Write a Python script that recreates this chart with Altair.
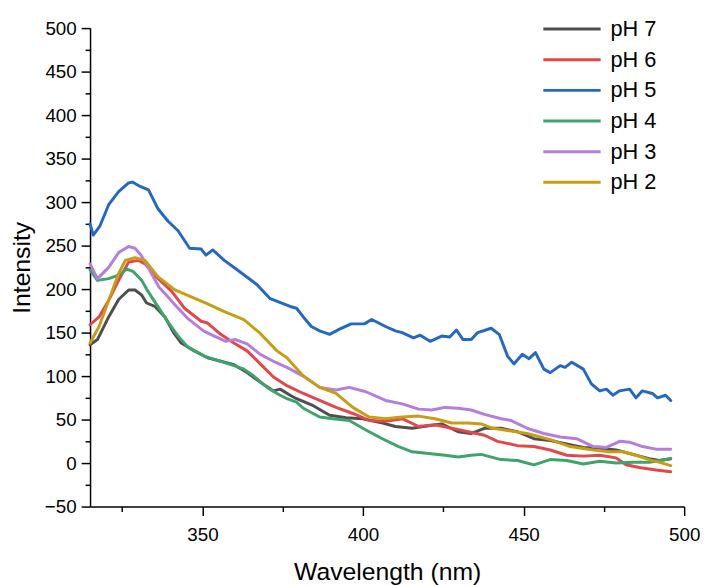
import altair as alt
import pandas as pd

series = ["pH 7", "pH 6", "pH 5", "pH 4", "pH 3", "pH 2"]
colors = ["#4f4f4f", "#e2474a", "#2468c4", "#3ea46c", "#b47fdc", "#c99d12"]

wl_ph7 = [315, 317.3, 320.8, 323.9, 327, 329, 331.1, 332.6, 335.2, 338.3, 341, 343.4, 347.5, 351.6,
          355.7, 359.8, 363.9, 368, 372.1, 374.2, 377.3, 379.3, 384.5, 389.6, 394.7, 399.9, 405,
          410.1, 415.3, 420.4, 424.5, 429.6, 433.7, 437.8, 443, 448.1, 453.2, 458.3, 463.4, 468.6,
          473.7, 478.8, 484, 489.1, 492.2, 495.8]
int_ph7 = [136, 142, 168, 188, 199, 199, 193, 184, 180, 168, 150, 138, 129, 121,
           117, 113, 104, 93, 83, 85, 78, 74, 66, 55, 52, 51, 47,
           42, 40, 43, 45, 36, 34, 40, 40, 36, 28, 26, 22, 18,
           17, 15, 10, 5, 3, 5]

wl_ph6 = [315, 317.8, 320.8, 323.9, 327, 330.1, 332.1, 336.2, 340.3, 344.4, 349.6, 351.6, 355.7,
          359.8, 363.9, 368, 372.1, 376.3, 381.4, 386.5, 391.6, 396.8, 401.9, 407, 412.2, 417.3,
          422.4, 427.6, 432.7, 437.8, 441.9, 448.1, 453.2, 458.3, 463.4, 468.6, 473.7, 478.8,
          481.9, 486, 491.2, 495.8]
int_ph6 = [159, 168, 187, 210, 231, 233, 229, 212, 198, 178, 163, 161, 148,
           138, 129, 114, 99, 89, 80, 72, 64, 57, 49, 48, 51, 42,
           44, 40, 36, 32, 25, 20, 19, 15, 9, 8, 9, 6,
           -2, -5, -8, -10]

wl_ph5 = [315, 316, 318, 320.8, 323.9, 327, 328.2, 330.6, 333.2, 336.2, 339.3, 342.4, 346, 349.6,
          351.1, 353.2, 356.8, 360.9, 367, 371.1, 377.3, 379.3, 381.4, 383.9, 386.5, 389.6, 392.7,
          396.3, 400.4, 402.7, 407, 410.1, 412.2, 415.7, 417.8, 420.9, 424.5, 427, 429.1, 431.1,
          433.7, 435.7, 439.9, 442.4, 445, 447, 449.6, 451.7, 453.7, 456.3, 458.3, 461.4, 462.9,
          465, 468.6, 471.1, 473.7, 475.8, 477.8, 479.9, 483, 485, 487, 490.1, 491.7, 494.2, 495.8]
int_ph5 = [275, 262, 272, 297, 312, 322, 323, 318, 314, 292, 278, 267, 247, 246,
           239, 245, 233, 222, 205, 189, 180, 178, 168, 157, 152, 148, 154,
           160, 160, 165, 157, 152, 150, 144, 147, 140, 146, 145, 153, 142,
           142, 150, 155, 148, 123, 114, 125, 120, 127, 108, 104, 112, 110,
           116, 108, 91, 83, 85, 78, 83, 85, 75, 83, 80, 75, 78, 72]

wl_ph4 = [315, 317.3, 320.8, 323.9, 326.5, 328.5, 331.1, 332.6, 335.2, 339.3, 342.4, 345.5, 350.6,
          355.7, 359.8, 362.9, 366, 370.1, 373.2, 376.3, 379.3, 381.4, 386.5, 390.6, 395.7, 400.9,
          406, 411.1, 415.3, 420.4, 425.5, 429.6, 433.7, 436.8, 440.9, 443, 448.1, 453.2, 458.3,
          463.4, 468.6, 473.7, 478.8, 484, 489.1, 495.8]
int_ph4 = [222, 210, 212, 216, 223, 220, 210, 200, 185, 162, 146, 133, 123,
           117, 112, 108, 100, 87, 80, 74, 70, 63, 53, 51, 49, 38,
           28, 19, 13, 11, 9, 7, 9, 10, 6, 4, 3, -2, 4,
           3, -1, 2, 0, 1, 1, 5]

wl_ph3 = [315, 317.3, 320.8, 323.9, 327, 329, 330.9, 333.2, 336.5, 339.3, 341.9, 345.5, 350.3,
          353.7, 357.3, 360.3, 363.9, 368, 372.1, 376.3, 381.4, 386.5, 391.6, 395.7, 400.9, 407,
          412.2, 417.3, 421.4, 425.5, 429.6, 433.7, 437.8, 443, 446, 451.1, 456.3, 461.4, 466.5,
          471.7, 475.8, 479.9, 483, 487, 491.2, 495.8]
int_ph3 = [229, 212, 225, 242, 249, 247, 239, 224, 202, 191, 180, 166, 152,
           146, 140, 142, 137, 125, 117, 110, 100, 87, 84, 87, 82, 72,
           68, 62, 61, 64, 63, 61, 56, 51, 49, 40, 34, 30, 28,
           19, 18, 25, 24, 19, 16, 16]

wl_ph2 = [315, 317.8, 320.8, 323.9, 326, 329, 332.1, 336.2, 341.4, 346.5, 351.6, 356.8, 362.9,
          368, 373.2, 376.3, 381.4, 386.5, 391.6, 396.8, 401.9, 407, 412.2, 417.3, 422.4, 427.6,
          432.7, 436.8, 440.4, 444, 451.1, 458.3, 464.5, 471.7, 476.8, 480.9, 485, 489.1, 493.2,
          495.8]
int_ph2 = [138, 157, 187, 218, 233, 236, 233, 214, 199, 191, 183, 174, 165,
           149, 129, 121, 100, 87, 80, 64, 53, 51, 53, 54, 51, 46,
           46, 45, 40, 38, 34, 27, 19, 15, 13, 13, 9, 4, 0,
           -3]

x_tick_values = [325, 350, 375, 400, 425, 450, 475, 500]
y_tick_values = [-50, -25, 0, 25, 50, 75, 100, 125, 150, 175, 200, 225, 250, 275, 300,
                 325, 350, 375, 400, 425, 450, 475, 500]

all_series = [
    ("pH 7", wl_ph7, int_ph7),
    ("pH 6", wl_ph6, int_ph6),
    ("pH 5", wl_ph5, int_ph5),
    ("pH 4", wl_ph4, int_ph4),
    ("pH 3", wl_ph3, int_ph3),
    ("pH 2", wl_ph2, int_ph2),
]
rows = []
for name, wl, iv in all_series:
    assert len(wl) == len(iv), name
    for w, v in zip(wl, iv):
        rows.append({"Wavelength": w, "Intensity": v, "Series": name})
df = pd.DataFrame(rows)

FONT = "Liberation Sans"
minor_dash = {"condition": {"test": "datum.value % 50 !== 0", "value": [5, 30]}, "value": [1000, 0]}

x_axis = alt.Axis(
    title="Wavelength (nm)", values=x_tick_values,
    labelExpr="datum.value % 50 === 0 ? datum.label : ''",
    tickSize=9, tickDash=minor_dash,
    labelFlush=False, labelOverlap=False, labelPadding=10, titlePadding=16,
    grid=False,
)
y_axis = alt.Axis(
    title="Intensity", values=y_tick_values,
    labelExpr="datum.value % 50 === 0 ? datum.label : ''",
    tickSize=9, tickDash=minor_dash,
    labelFlush=False, labelOverlap=False, labelPadding=5, titlePadding=10,
    grid=False,
)

chart = alt.Chart(df).mark_line(strokeWidth=3, strokeJoin="round", strokeCap="round").encode(
    x=alt.X("Wavelength:Q", scale=alt.Scale(domain=[315, 500], nice=False, zero=False), axis=x_axis),
    y=alt.Y("Intensity:Q", scale=alt.Scale(domain=[-50, 500], nice=False, zero=False), axis=y_axis),
    color=alt.Color(
        "Series:N",
        scale=alt.Scale(domain=series, range=colors),
        sort=series,
        legend=alt.Legend(
            title=None, orient="none", legendX=476.5, legendY=-10,
            symbolType="M-5.8,0L5.8,0", symbolSize=100, symbolStrokeWidth=3,
            labelFont=FONT, labelFontSize=22, labelColor="black",
            labelOffset=28, rowPadding=9,
        ),
    ),
).properties(
    width=601, height=484,
    autosize=alt.AutoSizeParams(type="none"),
    padding={"left": 83, "top": 17, "right": 16, "bottom": 76},
).configure_view(stroke=None).configure_axis(
    domainColor="black", domainWidth=1.5, tickColor="black", tickWidth=1.5,
    labelFont=FONT, labelFontSize=19, labelColor="black",
    titleFont=FONT, titleFontSize=25, titleFontWeight="normal", titleColor="black",
)

chart.save("out.html", embed_options={"renderer": "svg", "actions": False})
